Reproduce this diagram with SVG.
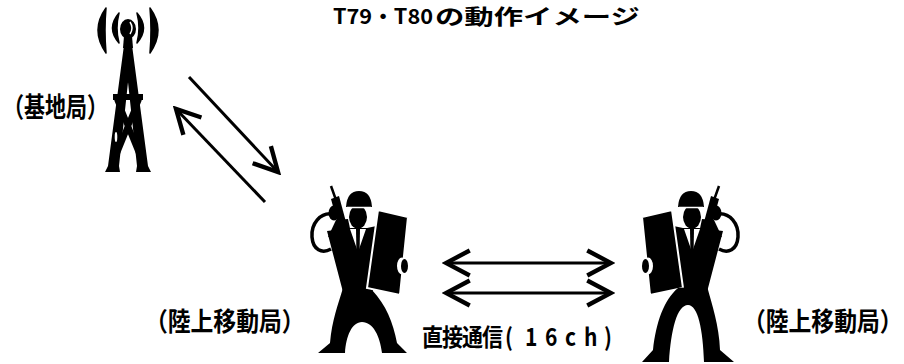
<svg xmlns="http://www.w3.org/2000/svg" width="904" height="364" viewBox="0 0 904 364">
  <defs>
    <style>
      .lbl { font-family: "Noto Sans CJK JP", "Noto Sans", sans-serif; font-weight: bold; fill: #000; }
      .link { stroke: #000; stroke-width: 3; fill: none; }
      .ink { fill: #000; }
      .wave { fill: #000; stroke: #000; stroke-width: 1.5; stroke-linejoin: round; }
    </style>
    <marker id="head" markerUnits="userSpaceOnUse" markerWidth="30" markerHeight="30" viewBox="-2 -12 24 24" refX="19" refY="0" orient="auto-start-reverse">
      <path d="M0,-10 L19,0 L0,10" fill="none" stroke="#000" stroke-width="3.5" stroke-linejoin="miter"/>
    </marker>
    <!-- upper body of the handheld-radio operator (drawn facing right) -->
    <g id="operator-top">
      <line x1="331" y1="186" x2="336" y2="200" stroke="#000" stroke-width="2.5"/>
      <polygon class="ink" points="331,199 339,196 346,222 338,225"/>
      <ellipse class="ink" cx="334" cy="213" rx="5.5" ry="7.5"/>
      <path d="M333,214 C320,212 311,224 312,237 C313,250 322,254 331,249" fill="none" stroke="#000" stroke-width="3.5"/>
      <polygon class="ink" points="336,220 348,219 351,233 328,237"/>
      <polygon class="ink" points="327,231 351,228 367,228 386,224 378,282 372,292 343,292"/>
      <polygon fill="#fff" points="350,229 366,229 358,252"/>
      <polygon class="ink" points="356,229 360,229 359.5,256 356.5,256"/>
      <ellipse class="ink" cx="358" cy="217" rx="9" ry="11.5"/>
      <path class="ink" d="M346,207 Q347,191 359,191 Q371,191 372,207 Z"/>
      <line x1="347" y1="207.5" x2="371" y2="207.5" stroke="#fff" stroke-width="1.5"/>
      <polygon class="ink" points="378,210 408,217 400,295 367,288" stroke="#fff" stroke-width="2"/>
      <ellipse fill="#fff" cx="402" cy="266" rx="5" ry="8.5"/>
      <ellipse class="ink" cx="404.5" cy="266" rx="3.5" ry="7"/>
    </g>
  </defs>

  <!-- title -->
  <text class="lbl" y="24" font-size="21"><tspan x="333" textLength="100" lengthAdjust="spacingAndGlyphs">T79・T80</tspan><tspan x="435" textLength="205" lengthAdjust="spacingAndGlyphs">の動作イメージ</tspan></text>

  <!-- base station tower -->
  <g id="base-station">
    <path class="wave" d="M106,8 Q90,30 106,53 Q104,30 106,8 Z"/>
    <path class="wave" d="M119,13 Q106,28 119,43 Q115,28 119,13 Z"/>
    <path class="wave" d="M137,13 Q150,28 137,43 Q141,28 137,13 Z"/>
    <path class="wave" d="M150,8 Q166,30 150,53 Q152,30 150,8 Z"/>
    <ellipse class="ink" cx="128" cy="29" rx="8" ry="10"/>
    <path d="M130,22 Q134,28 130,34" stroke="#fff" stroke-width="1.5" fill="none"/>
    <polygon class="ink" points="124,36 132,36 133,48 123,48"/>
    <polygon class="ink" points="124,45 132,45 119,166 120,172 105,172 108,166"/>
    <polygon class="ink" points="124,45 132,45 148,166 151,172 136,172 137,166"/>
    <rect class="ink" x="113" y="94" width="30" height="6"/>
    <line x1="117" y1="99" x2="143" y2="163" stroke="#000" stroke-width="6"/>
    <line x1="139" y1="99" x2="113" y2="163" stroke="#000" stroke-width="6"/>
    <ellipse fill="#fff" cx="116" cy="137" rx="1.3" ry="5"/>
    <text class="lbl" x="3" y="117" font-size="27" textLength="105" lengthAdjust="spacingAndGlyphs">（基地局）</text>
  </g>

  <!-- mobile station, left -->
  <g id="mobile-left">
    <use href="#operator-top"/>
    <path class="ink" d="M343,288 C338,305 332,320 330,343 L318,353 L345,353 C346,336 352,322 362,322 C373,322 380,336 382,353 L407,353 L397,343 C393,322 386,305 372,290 Z"/>
    <text class="lbl" x="145" y="0" font-size="22.8" transform="translate(0,331) scale(1,1.13)">（陸上移動局）</text>
  </g>

  <!-- mobile station, right -->
  <g id="mobile-right">
    <g transform="translate(1050,0) scale(-1,1)">
      <use href="#operator-top"/>
      <path class="ink" d="M343,286 C338,305 331,325 330,350 L316,362 L346,362 C347,330 352,305 362,305 C373,305 379,330 381,362 L408,362 L397,350 C394,322 386,300 372,288 Z"/>
    </g>
    <text class="lbl" x="743" y="0" font-size="22.8" transform="translate(0,331) scale(1,1.13)">（陸上移動局）</text>
  </g>

  <!-- radio links -->
  <g id="connectors">
    <line class="link" x1="189" y1="77" x2="278" y2="172" marker-end="url(#head)"/>
    <line class="link" x1="265" y1="202" x2="176" y2="109" marker-end="url(#head)"/>
    <line class="link" x1="446" y1="263" x2="611" y2="263" marker-start="url(#head)" marker-end="url(#head)"/>
    <line class="link" x1="446" y1="293" x2="611" y2="293" marker-start="url(#head)" marker-end="url(#head)"/>
  </g>

  <!-- channel label: fixed 20px pitch per character, glyphs drawn a little taller than wide -->
  <text class="lbl" font-size="21" transform="translate(0,346) scale(1,1.15)" y="0" x="422 442 462 482 505 525 545 565 584 604">直接通信(16ch)</text>
</svg>
